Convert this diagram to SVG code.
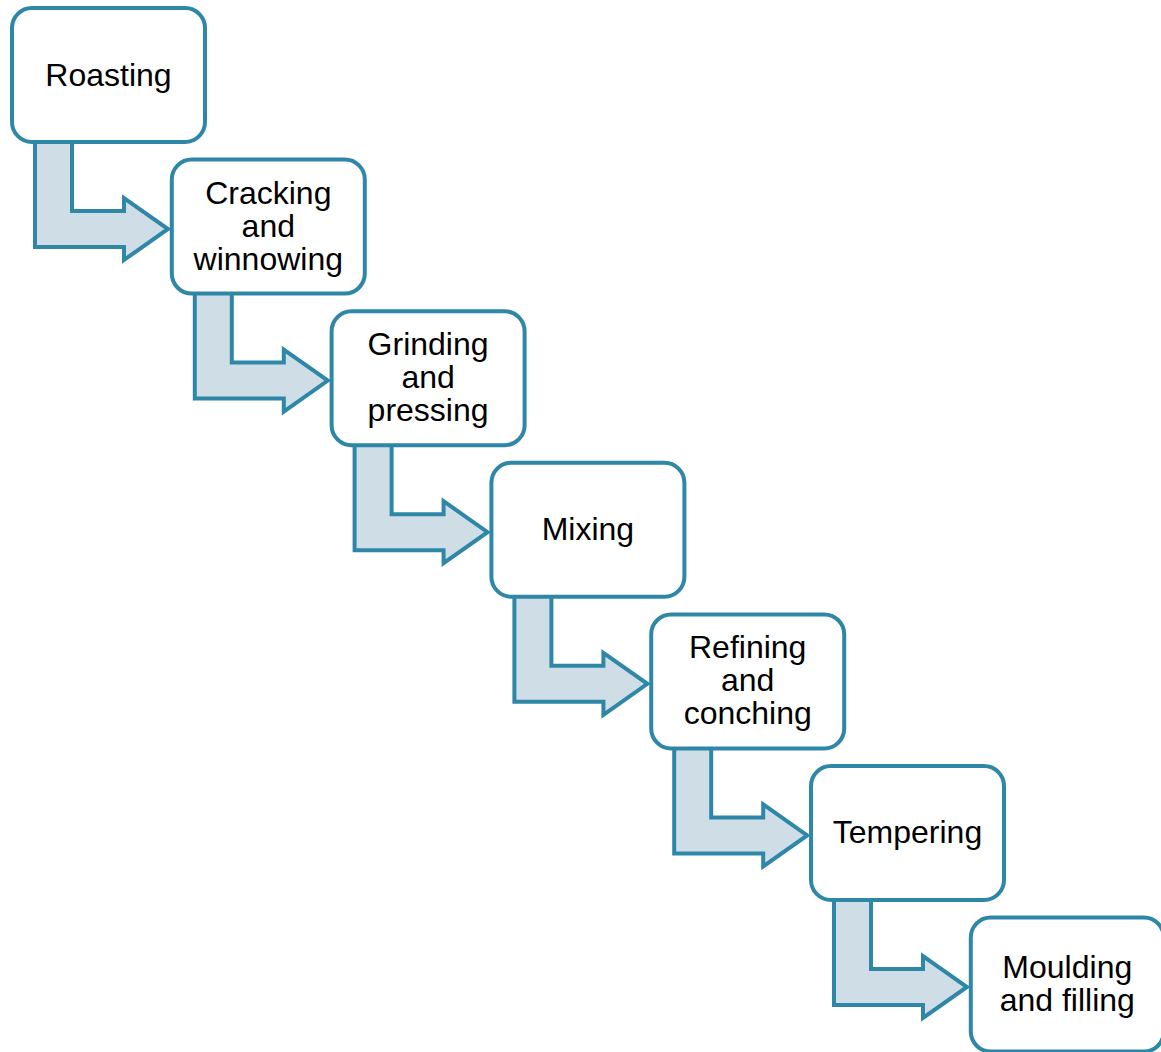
<svg xmlns="http://www.w3.org/2000/svg" width="1161" height="1052" viewBox="0 0 1161 1052">
<defs>
<style>
.box{fill:#ffffff;stroke:#2f87a8;stroke-width:4}
.arr{fill:#cfdde7;stroke:#2f87a8;stroke-width:4;stroke-linejoin:miter}
.t{font-family:"Liberation Sans",Arial,sans-serif;font-size:32px;fill:#000;text-anchor:middle}
</style>
<path id="bent" d="M23,130 L60,130 L60,203 L112,203 L112,190 L156,221 L112,252 L112,239 L23,239 Z"/>
</defs>
<rect width="1161" height="1052" fill="#ffffff"/>
<g id="connectors">
<use href="#bent" class="arr" transform="translate(12,8)"/>
<use href="#bent" class="arr" transform="translate(171.8,159.6)"/>
<use href="#bent" class="arr" transform="translate(331.6,311.2)"/>
<use href="#bent" class="arr" transform="translate(491.4,462.8)"/>
<use href="#bent" class="arr" transform="translate(651.2,614.4)"/>
<use href="#bent" class="arr" transform="translate(811,766)"/>
</g>
<g id="roasting">
<rect class="box" x="12" y="8" width="193" height="134" rx="20"/>
<text class="t" x="108.5" y="86">Roasting</text>
</g>
<g id="cracking">
<rect class="box" x="171.8" y="159.6" width="193" height="134" rx="20"/>
<text class="t" x="268.3" y="203.6">Cracking</text>
<text class="t" x="268.3" y="236.6">and</text>
<text class="t" x="268.3" y="269.6">winnowing</text>
</g>
<g id="grinding">
<rect class="box" x="331.6" y="311.2" width="193" height="134" rx="20"/>
<text class="t" x="428.1" y="355.2">Grinding</text>
<text class="t" x="428.1" y="388.2">and</text>
<text class="t" x="428.1" y="421.2">pressing</text>
</g>
<g id="mixing">
<rect class="box" x="491.4" y="462.8" width="193" height="134" rx="20"/>
<text class="t" x="587.9" y="540">Mixing</text>
</g>
<g id="refining">
<rect class="box" x="651.2" y="614.4" width="193" height="134" rx="20"/>
<text class="t" x="747.7" y="658.4">Refining</text>
<text class="t" x="747.7" y="691.4">and</text>
<text class="t" x="747.7" y="724.4">conching</text>
</g>
<g id="tempering">
<rect class="box" x="811" y="766" width="193" height="134" rx="20"/>
<text class="t" x="907.5" y="843">Tempering</text>
</g>
<g id="moulding">
<rect class="box" x="970.8" y="917.6" width="193" height="134" rx="20"/>
<text class="t" x="1067.3" y="978">Moulding</text>
<text class="t" x="1067.3" y="1011">and filling</text>
</g>
</svg>
